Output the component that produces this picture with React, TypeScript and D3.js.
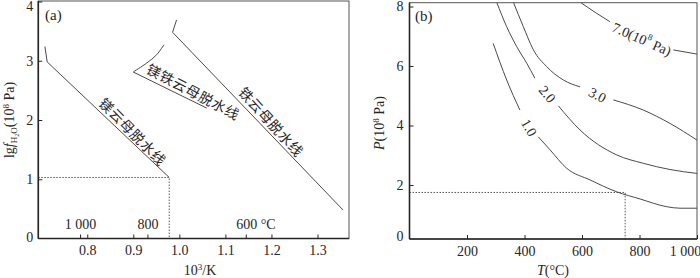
import { useEffect, useRef } from 'react'
import * as d3 from 'd3'

// panel (a): dehydration lines, x = 10^3/K, y = lg fH2O (10^8 Pa)
const mgLine: [number, number][] = [[0.708, 3.24], [0.713, 2.98], [0.978, 1.03]]
const femgHook: [number, number][] = [[0.9665, 3.27], [0.9506, 3.1], [0.929, 2.96], [0.8998, 2.81]]
const femgLine: [number, number][] = [[0.8998, 2.81], [1.0597, 2.2]]
const annLine: [number, number][] = [[0.994, 3.69], [0.9853, 3.48], [1.3556, 0.48]]
const xTicksA = [0.8, 0.9, 1.0, 1.1, 1.2, 1.3]
const yTicksA = [1, 2, 3, 4]
const tempTicksA = [1000, 800, 600]
const tempLabelsA = ['1 000', '800', '600 °C']
const cutA: [number, number] = [0.978, 1.03]

// panel (b): fH2O isopleths, x = T (°C), y = P (10^8 Pa); each split where its label sits
const iso1a: [number, number][] = [[291, 6.76], [338, 5.53], [384, 4.52]]
const iso1b: [number, number][] = [[448, 3.62], [489, 3.18], [547, 2.56], [628, 2.17], [721, 1.77], [802, 1.53], [895, 1.27], [941, 1.22], [1000, 1.22]]
const iso2a: [number, number][] = [[303, 8.15], [338, 7.32], [373, 6.65], [408, 6.09], [436, 5.59]]
const iso2b: [number, number][] = [[518, 4.66], [593, 3.85], [721, 3.01], [813, 2.73], [906, 2.52], [1000, 2.39]]
const iso3a: [number, number][] = [[361, 8.15], [396, 7.32], [431, 6.54], [477, 5.98], [535, 5.53], [593, 5.3]]
const iso3b: [number, number][] = [[709, 4.86], [813, 4.52], [906, 4.07], [1000, 3.51]]
const iso7a: [number, number][] = [[593, 8.15], [651, 7.77], [697, 7.49]]
const iso7b: [number, number][] = [[918, 6.54], [1000, 6.4]]
const isoLabels = ['1.0', '2.0', '3.0', '7.0(10']
const xTicksB = [200, 400, 600, 800, 1000]
const yTicksB = [2, 4, 6, 8]
const cutB: [number, number] = [750, 1.75]

export default function App() {
  const svgRef = useRef<SVGSVGElement>(null)

  useEffect(() => {
    const svg = d3.select(svgRef.current)
    svg.selectAll('*').remove()
    const serif = '"Liberation Serif", "Times New Roman", serif'
    const cjk = '"Noto Sans CJK SC", sans-serif'
    const ink = '#262626'
    const lineInk = '#4a4a4a'

    // ---------- panel (a)
    const xA = d3.scaleLinear([0.6937, 1.3684], [38.3, 349])
    const yA = d3.scaleLinear([0, 4], [238.5, 1.5])
    const gA = svg.append('g')

    gA.append('rect')
      .attr('x', xA.range()[0]).attr('y', 1)
      .attr('width', xA.range()[1] - xA.range()[0]).attr('height', yA(0) - 1)
      .attr('fill', 'none').attr('stroke', '#555').attr('stroke-width', 1)

    const axA = gA.append('g')
      .attr('transform', `translate(0,${yA(0)})`)
      .call(d3.axisBottom(xA).tickValues(xTicksA).tickSizeInner(-4).tickSizeOuter(0).tickPadding(7).tickFormat(d3.format('.1f')))
    const ayA = gA.append('g')
      .attr('transform', `translate(${xA.range()[0]},0)`)
      .call(d3.axisLeft(yA).tickValues(yTicksA).tickSizeInner(-4).tickSizeOuter(0).tickPadding(5).tickFormat(d3.format('d')))
    ayA.selectAll('.tick text').filter((d: any) => d === 4).attr('dy', '0.65em')
    gA.append('text').text('0')
      .attr('x', xA.range()[0] - 5).attr('y', yA(0) + 3)
      .attr('text-anchor', 'end').attr('font-family', serif).attr('font-size', 14).attr('fill', ink)

    // temperature ticks inside the bottom axis
    tempTicksA.forEach((t, i) => {
      const x = xA(1000 / (t + 273.15))
      gA.append('line')
        .attr('x1', x).attr('x2', x).attr('y1', yA(0)).attr('y2', yA(0) - 4)
        .attr('stroke', ink)
      gA.append('text').text(tempLabelsA[i])
        .attr('x', i === 2 ? x - 10 : x).attr('y', 229)
        .attr('text-anchor', i === 2 ? 'start' : 'middle')
        .attr('font-family', serif).attr('font-size', 14).attr('fill', ink)
    })

    // cut-off dotted lines
    gA.append('path')
      .attr('d', `M${xA.range()[0]},${yA(cutA[1])}H${xA(cutA[0])}V${yA(0)}`)
      .attr('fill', 'none').attr('stroke', '#555').attr('stroke-dasharray', '1.5,1.5')

    const lineA = d3.line<[number, number]>().x(d => xA(d[0])).y(d => yA(d[1]))
    ;[mgLine, femgLine, annLine].forEach(pts => {
      gA.append('path').attr('d', lineA(pts)).attr('fill', 'none').attr('stroke', lineInk).attr('stroke-width', 1)
    })
    gA.append('path').attr('d', lineA.curve(d3.curveCatmullRom)(femgHook))
      .attr('fill', 'none').attr('stroke', lineInk).attr('stroke-width', 1)

    const cjkLabels: [string, number, number, number][] = [
      ['镁云母脱水线', 0.8996, 1.81, 45.3],
      ['镁铁云母脱水线', 1.0309, 2.486, 27.9],
      ['铁云母脱水线', 1.2002, 1.975, 47.7]
    ]
    cjkLabels.forEach(([t, x, y, a]) => {
      gA.append('text').text(t)
        .attr('transform', `translate(${xA(x)},${yA(y)}) rotate(${a})`)
        .attr('text-anchor', 'middle').attr('dominant-baseline', 'central')
        .attr('font-family', cjk).attr('font-size', 14).attr('letter-spacing', 0.7).attr('fill', ink)
    })

    gA.append('text').text('(a)').attr('x', 45).attr('y', 20)
      .attr('font-family', serif).attr('font-size', 15).attr('fill', ink)

    const tA = gA.append('text').attr('transform', 'translate(14,120) rotate(-90)')
      .attr('text-anchor', 'middle').attr('font-family', serif).attr('font-size', 14).attr('fill', ink)
    tA.append('tspan').text('lg')
    tA.append('tspan').text('f').attr('font-style', 'italic')
    tA.append('tspan').text('H').attr('font-size', 9).attr('dy', 3)
    tA.append('tspan').text('2').attr('font-size', 6).attr('dy', 1.5)
    tA.append('tspan').text('O').attr('font-size', 9).attr('dy', -1.5)
    tA.append('tspan').text('(10').attr('dy', -3)
    tA.append('tspan').text('8').attr('font-size', 9).attr('dy', -5)
    tA.append('tspan').text(' Pa)').attr('dy', 5)

    const xtA = gA.append('text').attr('x', 200).attr('y', 275)
      .attr('text-anchor', 'middle').attr('font-family', serif).attr('font-size', 14).attr('fill', ink)
    xtA.append('tspan').text('10')
    xtA.append('tspan').text('3').attr('font-size', 9).attr('dy', -5)
    xtA.append('tspan').text('/K').attr('dy', 5)

    // ---------- panel (b)
    const xB = d3.scaleLinear([0, 1000], [409.5, 697])
    const yB = d3.scaleLinear([0, 8], [244.5, 6.5])
    const bottomB = 239
    const topB = 2.7
    const gB = svg.append('g')

    gB.append('defs').append('clipPath').attr('id', 'clipB')
      .append('rect').attr('x', xB(0)).attr('y', topB).attr('width', xB(1000) - xB(0)).attr('height', bottomB - topB)

    gB.append('rect')
      .attr('x', xB(0)).attr('y', topB)
      .attr('width', xB(1000) - xB(0)).attr('height', bottomB - topB)
      .attr('fill', 'none').attr('stroke', '#555').attr('stroke-width', 1)

    const axB = gB.append('g')
      .attr('transform', `translate(0,${bottomB})`)
      .call(d3.axisBottom(xB).tickValues(xTicksB).tickSizeInner(-4).tickSizeOuter(0).tickPadding(7)
        .tickFormat((d: any) => (d === 1000 ? '1 000' : String(d))))
    axB.selectAll('.tick text').filter((d: any) => d === 1000).attr('dx', -12)
    gB.append('g')
      .attr('transform', `translate(${xB(0)},0)`)
      .call(d3.axisLeft(yB).tickValues(yTicksB).tickSizeInner(-4).tickSizeOuter(0).tickPadding(6).tickFormat(d3.format('d')))
    gB.append('text').text('0')
      .attr('x', xB(0) - 6).attr('y', bottomB + 2)
      .attr('text-anchor', 'end').attr('font-family', serif).attr('font-size', 14).attr('fill', ink)

    gB.append('path')
      .attr('d', `M${xB(0)},${yB(cutB[1])}H${xB(cutB[0])}V${bottomB}`)
      .attr('fill', 'none').attr('stroke', '#555').attr('stroke-dasharray', '1.5,1.5')

    const lineB = d3.line<[number, number]>().x(d => xB(d[0])).y(d => yB(d[1])).curve(d3.curveMonotoneX)
    const curves = gB.append('g').attr('clip-path', 'url(#clipB)')
    ;[iso1a, iso1b, iso2a, iso2b, iso3a, iso3b, iso7a, iso7b].forEach(pts => {
      curves.append('path').attr('d', lineB(pts)).attr('fill', 'none').attr('stroke', lineInk).attr('stroke-width', 1)
    })

    const labelPos: [number, number, number][] = [[416, 3.93, 60], [480, 5.06, 50], [654, 5.03, 28], [808, 6.91, 24]]
    isoLabels.forEach((t, i) => {
      const [x, y, a] = labelPos[i]
      const tx = gB.append('text')
        .attr('transform', `translate(${xB(x)},${yB(y)}) rotate(${a})`)
        .attr('text-anchor', 'middle').attr('dominant-baseline', 'central')
        .attr('font-family', serif).attr('font-size', 14).attr('fill', ink)
      tx.append('tspan').text(t)
      if (i === 3) {
        tx.append('tspan').text('8').attr('font-size', 9).attr('dy', -5)
        tx.append('tspan').text(' Pa)').attr('dy', 5)
      }
    })

    gB.append('text').text('(b)').attr('x', 415).attr('y', 21)
      .attr('font-family', serif).attr('font-size', 15).attr('fill', ink)

    const tB = gB.append('text').attr('transform', 'translate(384,123) rotate(-90)')
      .attr('text-anchor', 'middle').attr('font-family', serif).attr('font-size', 14).attr('fill', ink)
    tB.append('tspan').text('P').attr('font-style', 'italic')
    tB.append('tspan').text('(10')
    tB.append('tspan').text('8').attr('font-size', 9).attr('dy', -5)
    tB.append('tspan').text(' Pa)').attr('dy', 5)

    const xtB = gB.append('text').attr('x', 553).attr('y', 275)
      .attr('text-anchor', 'middle').attr('font-family', serif).attr('font-size', 14).attr('fill', ink)
    xtB.append('tspan').text('T').attr('font-style', 'italic')
    xtB.append('tspan').text('(°C)')

    // shared axis styling
    svg.selectAll('.domain').remove()
    svg.selectAll('.tick line').attr('stroke', ink)
    svg.selectAll('.tick text').attr('font-family', serif).attr('font-size', 14).attr('fill', ink)
    // heavier left/bottom axis lines
    ;[[xA.range()[0], yA(0), xA.range()[1], yA(0)], [xA.range()[0], 1, xA.range()[0], yA(0)],
      [xB(0), bottomB, xB(1000), bottomB], [xB(0), topB, xB(0), bottomB]].forEach(([x1, y1, x2, y2]) => {
      svg.append('line').attr('x1', x1).attr('y1', y1).attr('x2', x2).attr('y2', y2)
        .attr('stroke', ink).attr('stroke-width', 1.6)
    })
  }, [])

  return (
    <div style={{ position: 'absolute', left: 0, top: 0 }}>
      <svg ref={svgRef} width={700} height={278} style={{ display: 'block', background: '#fff' }} />
    </div>
  )
}
